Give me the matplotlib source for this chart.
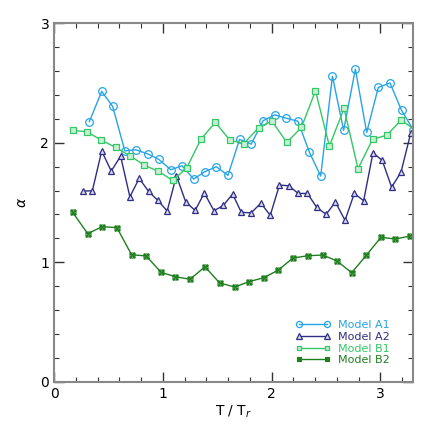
import matplotlib

matplotlib.use("Agg")
import matplotlib.pyplot as plt
from matplotlib.path import Path
from matplotlib.ticker import MultipleLocator

# Model A1 (open circles)
a1_x = [0.324, 0.438, 0.539, 0.651, 0.752, 0.860, 0.963, 1.073, 1.177, 1.284,
        1.385, 1.493, 1.599, 1.706, 1.813, 1.921, 2.028, 2.135, 2.242, 2.349,
        2.452, 2.560, 2.663, 2.771, 2.875, 2.982, 3.089, 3.196, 3.302]
a1_y = [2.175, 2.429, 2.303, 1.932, 1.941, 1.907, 1.861, 1.774, 1.807, 1.696,
        1.757, 1.799, 1.727, 2.028, 1.988, 2.183, 2.233, 2.205, 2.180, 1.919,
        1.721, 2.556, 2.103, 2.615, 2.086, 2.462, 2.500, 2.270, 2.110]

# Model A2 (triangles)
a2_x = [0.266, 0.352, 0.438, 0.526, 0.612, 0.697, 0.783, 0.869, 0.954, 1.040,
        1.125, 1.211, 1.297, 1.382, 1.471, 1.557, 1.642, 1.722, 1.813, 1.902,
        1.988, 2.073, 2.159, 2.245, 2.330, 2.416, 2.502, 2.587, 2.676, 2.761,
        2.847, 2.933, 3.018, 3.104, 3.190, 3.280]
a2_y = [1.596, 1.598, 1.930, 1.763, 1.888, 1.548, 1.702, 1.593, 1.518, 1.429,
        1.724, 1.504, 1.434, 1.579, 1.431, 1.476, 1.571, 1.418, 1.414, 1.495,
        1.393, 1.646, 1.640, 1.576, 1.576, 1.459, 1.401, 1.504, 1.351, 1.576,
        1.515, 1.916, 1.852, 1.629, 1.752, 2.080]

# Model B1 (squares)
b1_x = [0.171, 0.303, 0.434, 0.566, 0.697, 0.829, 0.960, 1.092, 1.220, 1.351,
        1.483, 1.615, 1.743, 1.881, 2.003, 2.140, 2.275, 2.404, 2.532, 2.667,
        2.795, 2.929, 3.061, 3.193, 3.325]
b1_y = [2.103, 2.091, 2.022, 1.961, 1.891, 1.813, 1.760, 1.685, 1.790, 2.030,
        2.170, 2.024, 1.991, 2.125, 2.183, 2.002, 2.128, 2.434, 1.972, 2.287,
        1.782, 2.028, 2.063, 2.191, 2.101]

# Model B2 (crossed boxes)
b2_x = [0.171, 0.309, 0.443, 0.578, 0.713, 0.847, 0.984, 1.116, 1.250, 1.388,
        1.523, 1.661, 1.792, 1.927, 2.064, 2.196, 2.333, 2.471, 2.603, 2.737,
        2.872, 3.006, 3.140, 3.275]
b2_y = [1.418, 1.240, 1.298, 1.290, 1.063, 1.054, 0.916, 0.880, 0.858, 0.963,
        0.827, 0.794, 0.838, 0.871, 0.936, 1.036, 1.055, 1.061, 1.011, 0.913,
        1.059, 1.209, 1.195, 1.220]

# square with both diagonals
box_x = Path(
    [(-1, -1), (1, -1), (1, 1), (-1, 1), (-1, -1), (1, 1), (-1, 1), (1, -1)],
    [Path.MOVETO, Path.LINETO, Path.LINETO, Path.LINETO, Path.LINETO,
     Path.LINETO, Path.MOVETO, Path.LINETO],
)

C_A1 = "#27a4e6"
C_A2 = "#2e2e86"
C_B1 = "#33c865"
C_B2 = "#1f7f1f"

fig = plt.figure(figsize=(4.36, 4.36), dpi=100)
ax = fig.add_axes([0.124, 0.124, 0.823, 0.823])

ax.plot(a1_x, a1_y, color=C_A1, lw=1.0, marker="o", ms=5.5, mfc="none",
        mec=C_A1, mew=0.9, label="Model A1")
ax.plot(a2_x, a2_y, color=C_A2, lw=1.0, marker="^", ms=5, mfc="#d8d8f0",
        mec=C_A2, mew=0.9, label="Model A2")
ax.plot(b1_x, b1_y, color=C_B1, lw=1.0, marker="s", ms=4, mfc="#c8f0d4",
        mec=C_B1, mew=0.9, label="Model B1")
ax.plot(b2_x, b2_y, color=C_B2, lw=1.0, marker=box_x, ms=3.5, mfc="none",
        mec=C_B2, mew=0.9, label="Model B2")

ax.set_xlim(0, 3.3)
ax.set_ylim(0, 3)
ax.xaxis.set_major_locator(MultipleLocator(1))
ax.xaxis.set_minor_locator(MultipleLocator(0.2))
ax.yaxis.set_major_locator(MultipleLocator(1))
ax.yaxis.set_minor_locator(MultipleLocator(0.2))
ax.tick_params(which="both", direction="in", top=True, right=True,
               labelsize=10, color="#333333")
ax.tick_params(which="major", length=7, width=1)
ax.tick_params(which="minor", length=3.5, width=0.8)
for s in ax.spines.values():
    s.set_color("#888888")
    s.set_linewidth(1.5)

ax.set_xlabel(r"T / T$_r$", fontsize=10, labelpad=2)
ax.set_ylabel(r"$\alpha$", fontsize=10, labelpad=8)

leg = ax.legend(loc="lower right", bbox_to_anchor=(0.957, 0.025), frameon=False,
                fontsize=8, handlelength=3.1, numpoints=2, labelspacing=0.15,
                handletextpad=0.7, borderpad=0.2, markerscale=0.8)
for txt, c in zip(leg.get_texts(), [C_A1, C_A2, C_B1, C_B2]):
    txt.set_color(c)

fig.savefig("out.png", dpi=100)
